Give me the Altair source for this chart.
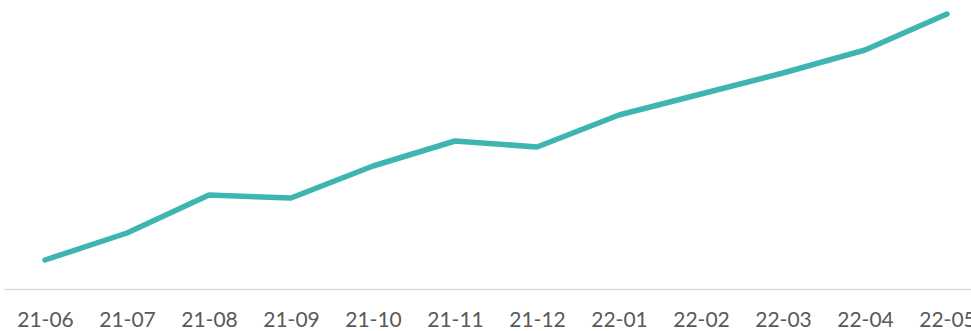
import altair as alt
import pandas as pd

months = ["21-06", "21-07", "21-08", "21-09", "21-10", "21-11",
          "21-12", "22-01", "22-02", "22-03", "22-04", "22-05"]
values = [29, 56, 94, 91, 123, 148, 142, 174, 195, 216, 239, 275]

df = pd.DataFrame({"month": months, "value": values})

chart = alt.Chart(df).mark_line(
    color="#3FB5B1", strokeWidth=5.5, strokeCap="round", strokeJoin="round"
).encode(
    x=alt.X("month:N", sort=months, title=None,
            scale=alt.Scale(range=[0, 984], paddingInner=0, paddingOuter=0),
            axis=alt.Axis(labelAngle=0, ticks=False, labelPadding=20,
                          labelFont="Lato", labelFontSize=21, labelColor="#595959",
                          domainColor="#D9D9D9", domainWidth=1.5, grid=False)),
    y=alt.Y("value:Q", title=None, axis=None,
            scale=alt.Scale(domain=[0, 289], nice=False, zero=True)),
).properties(
    width=967, height=289,
    autosize=alt.AutoSizeParams(type="none"),
    padding={"left": 4, "top": 0, "right": 0, "bottom": 42},
).configure_view(stroke=None)

chart.save("out.html", embed_options={"renderer": "svg", "actions": False})
